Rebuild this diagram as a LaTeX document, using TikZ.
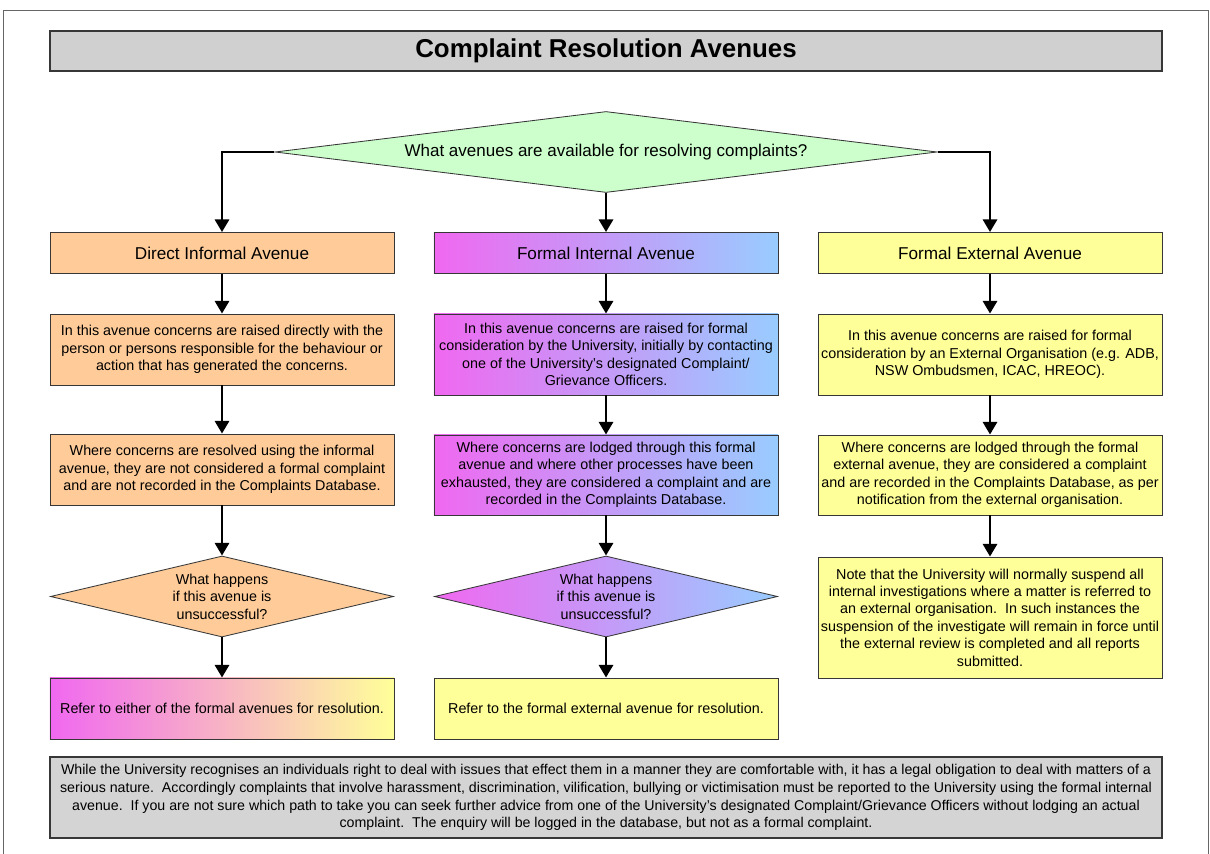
\documentclass[tikz,border=0pt]{standalone}
\usepackage{fontspec}
\setmainfont{Liberation Sans}
\usetikzlibrary{shapes.geometric,arrows.meta}

\definecolor{titlegray}{RGB}{208,208,208}
\definecolor{advicegray}{RGB}{212,212,212}
\definecolor{asklime}{RGB}{204,255,204}
\definecolor{peach}{RGB}{255,204,153}
\definecolor{lemon}{RGB}{255,255,153}
\definecolor{orchid}{RGB}{240,104,240}
\definecolor{skyblue}{RGB}{153,204,255}
\definecolor{blush}{RGB}{245,182,200}
\definecolor{edge}{RGB}{55,55,55}

\tikzset{
  box/.style={draw=edge, line width=0.6pt, align=center, minimum width=8.6cm,
    inner sep=1pt, font=\fontsize{10.2}{12.4}\selectfont},
  headbox/.style={box, minimum height=1.025cm, font=\fontsize{12.2}{14}\selectfont},
  askbox/.style={box, shape=diamond, aspect=4.23, inner sep=0pt,
    minimum width=8.575cm, minimum height=2.025cm},
  flow/.style={line width=2pt, -{Triangle[width=10pt,length=9pt]}},
  informal/.style={fill=peach},
  internal/.style={left color=orchid, right color=skyblue},
  external/.style={fill=lemon},
}

\begin{document}
\begin{tikzpicture}[x=0.025cm, y=-0.025cm]
\useasboundingbox (0,0) rectangle (1210,854);
% page frame
\draw[black!60, line width=0.5pt] (3,854) -- (3,10) -- (1208,10) -- (1208,854);

% Title
\node[draw=edge, line width=1pt, fill=titlegray, minimum width=27.8cm, minimum height=1cm,
  font=\fontsize{18.4}{21}\selectfont\bfseries] (title) at (606,51) {Complaint Resolution Avenues};

% Question
\node[draw=edge, line width=0.6pt, fill=asklime, shape=diamond, aspect=8.2, inner sep=0pt,
  minimum width=16.55cm, minimum height=2.025cm, font=\fontsize{12.1}{14}\selectfont]
  (avenues) at (606,152) {What avenues are available for resolving complaints?};

% Direct informal avenue
\node[headbox, informal] (inf) at (222,253) {Direct Informal Avenue};
\node[box, informal, minimum height=1.775cm] (infraise) at (222,349.5)
  {In this avenue concerns are raised directly with the\\person or persons responsible for the behaviour or\\action that has generated the concerns.};
\node[box, informal, minimum height=1.775cm] (infrecord) at (222,469.5)
  {Where concerns are resolved using the informal\\avenue, they are not considered a formal complaint\\and are not recorded in the Complaints Database.};
\node[askbox, informal] (infask) at (222,596.5) {What happens\\if this avenue is\\unsuccessful?};
\node[box, left color=orchid, middle color=blush, right color=lemon, minimum height=1.525cm]
  (infrefer) at (222,708.5) {Refer to either of the formal avenues for resolution.};

% Formal internal avenue
\node[headbox, internal] (int) at (606,253) {Formal Internal Avenue};
\node[box, internal, minimum height=2.025cm] (intraise) at (606,354.5)
  {In this avenue concerns are raised for formal\\consideration by the University, initially by contacting\\one of the University’s designated Complaint/\\Grievance Officers.};
\node[box, internal, minimum height=2cm] (intrecord) at (606,475)
  {Where concerns are lodged through this formal\\avenue and where other processes have been\\exhausted, they are considered a complaint and are\\recorded in the Complaints Database.};
\node[askbox, internal] (intask) at (606,596.5) {What happens\\if this avenue is\\unsuccessful?};
\node[box, external, minimum height=1.525cm] (intrefer) at (606,708.5)
  {Refer to the formal external avenue for resolution.};

% Formal external avenue
\node[headbox, external] (ext) at (990,253) {Formal External Avenue};
\node[box, external, minimum height=2.025cm] (extraise) at (990,354.5)
  {In this avenue concerns are raised for formal\\consideration by an External Organisation (e.g. ADB,\\NSW Ombudsmen, ICAC, HREOC).};
\node[box, external, minimum height=2cm] (extrecord) at (990,475)
  {Where concerns are lodged through the formal\\external avenue, they are considered a complaint\\and are recorded in the Complaints Database, as per\\notification from the external organisation.};
\node[box, external, minimum height=3.025cm] (extnote) at (990,617.5)
  {Note that the University will normally suspend all\\internal investigations where a matter is referred to\\an external organisation.\ \ In such instances the\\suspension of the investigate will remain in force until\\the external review is completed and all reports\\submitted.};

% Advice
\node[draw=edge, line width=1pt, fill=advicegray, minimum width=27.8cm, minimum height=2.025cm,
  align=center, font=\fontsize{10.1}{12.6}\selectfont] (advice) at (606,797.5)
  {While the University recognises an individuals right to deal with issues that effect them in a manner they are comfortable with, it has a legal obligation to deal with matters of a\\
   serious nature.\ \ Accordingly complaints that involve harassment, discrimination, vilification, bullying or victimisation must be reported to the University using the formal internal\\
   avenue.\ \ If you are not sure which path to take you can seek further advice from one of the University’s designated Complaint/Grievance Officers without lodging an actual\\
   complaint.\ \ The enquiry will be logged in the database, but not as a formal complaint.};

% Connectors
\draw[flow] (avenues.west) -| (inf.north);
\draw[flow] (avenues.south) -- (int.north);
\draw[flow] (avenues.east) -| (ext.north);
\foreach \from/\to in {inf/infraise, infraise/infrecord, infrecord/infask, infask/infrefer,
    int/intraise, intraise/intrecord, intrecord/intask, intask/intrefer,
    ext/extraise, extraise/extrecord, extrecord/extnote}
  \draw[flow] (\from) -- (\to);

\end{tikzpicture}
\end{document}
